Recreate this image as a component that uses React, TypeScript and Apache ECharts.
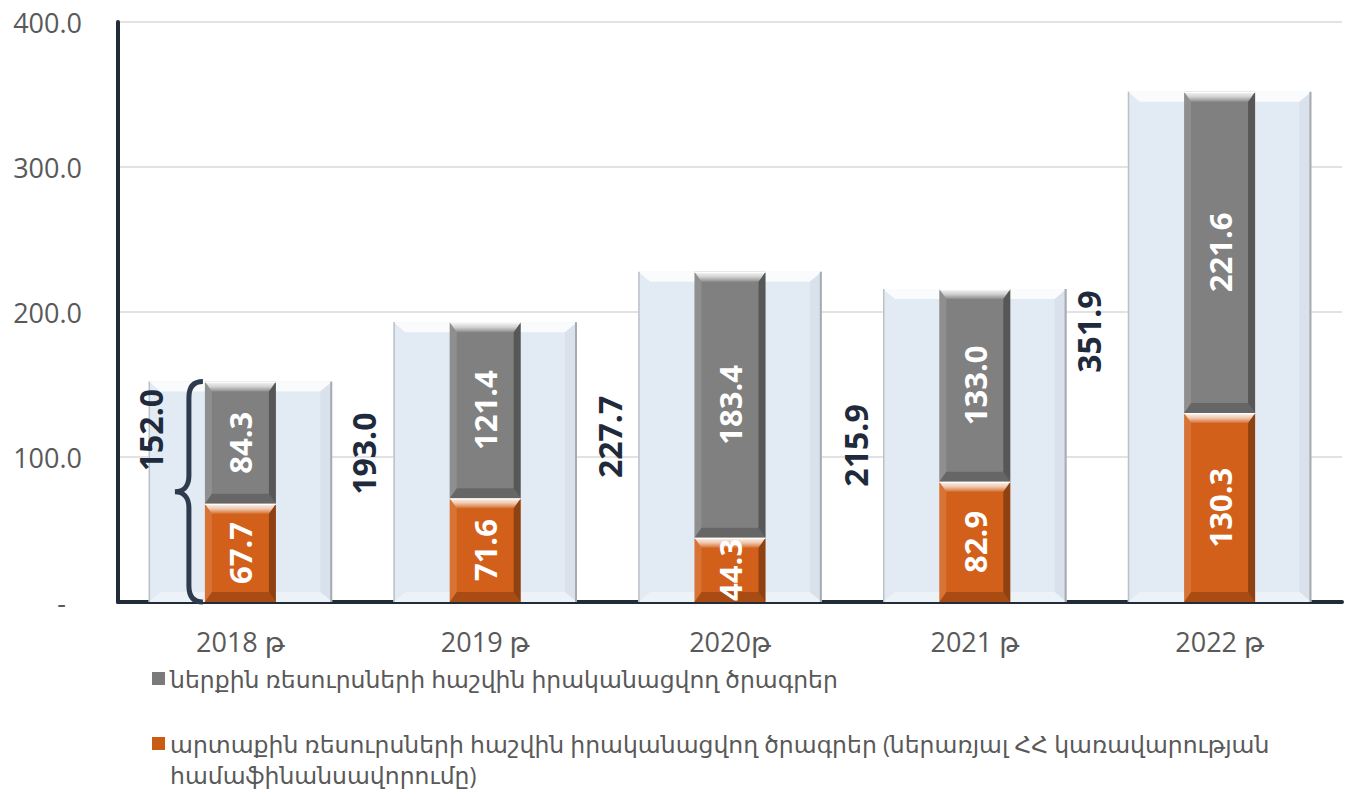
import React, { useEffect, useRef } from 'react';
import * as echarts from 'echarts';

const categories = ['2018 թ', '2019 թ', '2020թ', '2021 թ', '2022 թ'];
const externalValues = [67.7, 71.6, 44.3, 82.9, 130.3];
const internalValues = [84.3, 121.4, 183.4, 133.0, 221.6];
const totalValues = [152.0, 193.0, 227.7, 215.9, 351.9];
const internalName = 'ներքին ռեսուրսների հաշվին իրականացվող ծրագրեր';
const externalName = 'արտաքին ռեսուրսների հաշվին իրականացվող ծրագրեր (ներառյալ ՀՀ կառավարության համաֆինանսավորումը)';
const externalBreakWord = 'համաֆինանսավորումը)';

// layout only: total label anchor relative to the background bar's top-left corner
const totalLabelPos: any[] = [[2, '22%'], [-30, '47%'], [-29, '50%'], [-28, '50%'], [-39, '47%']];

const FONT = "'Open Sans', 'DejaVu Sans', sans-serif";
const BG_W = 0.75;
const SEG_W = 0.29;

echarts.graphic.registerShape(
  'brace',
  echarts.graphic.extendPath(
    'M28,0 C19,0 14,5 14,16 L14,94 C14,104 9,110 0,110 C9,110 14,116 14,126 L14,204 C14,215 19,220 28,220',
    {}
  )
);

function makeBevelRender(kind: number) {
  return function (params: any, api: any) {
    const cat = api.value(0);
    const lo = api.value(1);
    const hi = api.value(2);
    const bandW = api.size([1, 0])[0];
    const w = bandW * (kind === 0 ? BG_W : SEG_W);
    const p0 = api.coord([cat, lo]);
    const p1 = api.coord([cat, hi]);
    const x = p0[0] - w / 2;
    const yT = p1[1];
    const yB = p0[1];
    const h = yB - yT;
    const children: any[] = [];
    if (kind === 0) {
      const tb = 10;
      const sb = 12;
      children.push({
        type: 'polygon',
        shape: { points: [[x, yT], [x + w, yT], [x + w - sb, yT + tb], [x + sb, yT + tb]] },
        style: { fill: 'rgba(255,255,255,0.8)' },
      });
      children.push({
        type: 'polygon',
        shape: { points: [[x + w, yT], [x + w - sb, yT + tb], [x + w - sb, yB - tb], [x + w, yB]] },
        style: { fill: 'rgba(140,150,165,0.10)' },
      });
      children.push({
        type: 'polygon',
        shape: { points: [[x + sb, yB - tb], [x + w - sb, yB - tb], [x + w, yB], [x, yB]] },
        style: { fill: 'rgba(255,255,255,0.4)' },
      });
      children.push({
        type: 'rect',
        shape: { x: x, y: yT, width: 1.5, height: h },
        style: { fill: '#bcc1c7' },
      });
      children.push({
        type: 'rect',
        shape: { x: x + w - 2, y: yT, width: 2, height: h },
        style: { fill: '#a7abb0' },
      });
    } else {
      const tb = Math.min(10, h / 3);
      const sb = 7;
      children.push({
        type: 'polygon',
        shape: { points: [[x, yT], [x + sb, yT + tb], [x + sb, yB - tb], [x, yB]] },
        style: { fill: 'rgba(255,255,255,0.12)' },
      });
      children.push({
        type: 'polygon',
        shape: { points: [[x + w, yT], [x + w - sb, yT + tb], [x + w - sb, yB - tb], [x + w, yB]] },
        style: { fill: 'rgba(0,0,0,0.32)' },
      });
      children.push({
        type: 'polygon',
        shape: { points: [[x + sb, yB - tb], [x + w - sb, yB - tb], [x + w, yB], [x, yB]] },
        style: { fill: 'rgba(0,0,0,0.2)' },
      });
      children.push({
        type: 'polygon',
        shape: { points: [[x, yT], [x + w, yT], [x + w - sb, yT + tb], [x + sb, yT + tb]] },
        style: {
          fill: new echarts.graphic.LinearGradient(0, 0, 0, 1, [
            { offset: 0, color: 'rgba(255,255,255,0.95)' },
            { offset: 0.5, color: 'rgba(255,255,255,0.65)' },
            { offset: 1, color: 'rgba(255,255,255,0.1)' },
          ]),
        },
      });
      children.push({
        type: 'rect',
        shape: { x: x, y: yT, width: w, height: 1.2 },
        style: { fill: 'rgba(255,255,255,0.9)' },
      });
    }
    return { type: 'group', children };
  };
}

export default function App() {
  const ref = useRef<HTMLDivElement>(null);
  useEffect(() => {
    if (!ref.current) return;
    const chart = echarts.init(ref.current, undefined, { renderer: 'svg' });

    const bgBevelData = totalValues.map((v, i) => [i, 0, v]);
    const extBevelData = externalValues.map((v, i) => [i, 0, v]);
    const intBevelData = internalValues.map((v, i) => [i, externalValues[i], externalValues[i] + v]);

    const innerLabel = {
      show: true,
      position: 'inside',
      rotate: 90,
      fontSize: 31,
      fontWeight: 'bold',
      color: '#ffffff',
      fontFamily: FONT,
      formatter: (p: any) => Number(p.value).toFixed(1),
    };

    const bevelSeries = (name: string, kind: number, data: number[][], z: number) => ({
      type: 'custom',
      name,
      xAxisIndex: 0,
      yAxisIndex: 0,
      z,
      renderItem: makeBevelRender(kind),
      data,
      encode: { x: 0, y: [1, 2] },
      silent: true,
    });

    const legendText = { fontSize: 23.5, color: '#595959', fontFamily: FONT, lineHeight: 31 };

    chart.setOption({
      animation: false,
      backgroundColor: '#ffffff',
      grid: { left: 118, right: 9, top: 22, bottom: 197, containLabel: false },
      legend: [
        {
          orient: 'vertical',
          left: 152,
          top: 663,
          padding: 0,
          itemWidth: 13,
          itemHeight: 13,
          icon: 'rect',
          data: [{ name: internalName, itemStyle: { color: '#7a7a7a' } }],
          textStyle: legendText,
        },
        {
          orient: 'vertical',
          left: 152,
          top: 697,
          padding: 0,
          itemWidth: 13,
          itemHeight: 13,
          icon: 'rect',
          data: [{ name: externalName, itemStyle: { color: '#c95b14' } }],
          formatter: (name: string) => '\n' + name.replace(' ' + externalBreakWord, '\n' + externalBreakWord),
          textStyle: legendText,
        },
      ],
      xAxis: [
        {
          type: 'category',
          data: categories,
          axisLine: { show: true, lineStyle: { color: '#222b38', width: 4 } },
          axisTick: { show: false },
          axisLabel: { fontSize: 27, color: '#595959', fontFamily: FONT, margin: 26 },
          splitLine: { show: false },
        },
        {
          type: 'category',
          data: categories,
          show: false,
        },
      ],
      yAxis: {
        type: 'value',
        min: 0,
        max: 400,
        interval: 100,
        axisLine: { show: true, lineStyle: { color: '#222b38', width: 4 } },
        axisTick: { show: false },
        splitLine: { lineStyle: { color: '#d9d9d9', width: 1.5 } },
        axisLabel: {
          fontSize: 27,
          color: '#595959',
          fontFamily: FONT,
          margin: 36,
          formatter: (v: number) => (v === 0 ? '{d|-}' : v.toFixed(1)),
          rich: { d: { fontSize: 27, color: '#595959', fontFamily: FONT, padding: [0, 16, 0, 0] } },
        },
      },
      series: [
        {
          name: 'total',
          type: 'bar',
          xAxisIndex: 1,
          z: 1,
          barWidth: BG_W * 100 + '%',
          barGap: '-100%',
          data: totalValues,
          itemStyle: { color: '#e2eaf4' },
          silent: true,
        },
        bevelSeries('bgBevel', 0, bgBevelData, 2),
        {
          name: externalName,
          type: 'bar',
          stack: 's',
          z: 3,
          barWidth: SEG_W * 100 + '%',
          barGap: '-100%',
          data: externalValues,
          itemStyle: { color: '#d2601a' },
        },
        {
          name: internalName,
          type: 'bar',
          stack: 's',
          z: 3,
          barWidth: SEG_W * 100 + '%',
          barGap: '-100%',
          data: internalValues,
          itemStyle: { color: '#808080' },
        },
        bevelSeries('extBevel', 1, extBevelData, 4),
        bevelSeries('intBevel', 2, intBevelData, 4),
        {
          name: 'totalLabels',
          type: 'bar',
          xAxisIndex: 1,
          z: 6,
          barWidth: BG_W * 100 + '%',
          barGap: '-100%',
          data: totalValues.map((v, i) => ({ value: v, label: { position: totalLabelPos[i] } })),
          itemStyle: { color: 'rgba(0,0,0,0)' },
          silent: true,
          label: {
            show: true,
            rotate: 90,
            align: 'center',
            verticalAlign: 'middle',
            fontSize: 32,
            fontWeight: 'bold',
            color: '#1f2a3c',
            fontFamily: FONT,
            formatter: (p: any) => Number(p.value).toFixed(1),
          },
        },
        {
          name: 'externalLabels',
          type: 'bar',
          stack: 'lbl',
          z: 6,
          barWidth: SEG_W * 100 + '%',
          barGap: '-100%',
          data: externalValues,
          itemStyle: { color: 'rgba(0,0,0,0)' },
          silent: true,
          label: innerLabel,
        },
        {
          name: 'internalLabels',
          type: 'bar',
          stack: 'lbl',
          z: 6,
          barWidth: SEG_W * 100 + '%',
          barGap: '-100%',
          data: internalValues,
          itemStyle: { color: 'rgba(0,0,0,0)' },
          silent: true,
          label: innerLabel,
        },
      ],
    });

    const pTop = chart.convertToPixel({ xAxisIndex: 0, yAxisIndex: 0 }, [0, totalValues[0]]) as number[];
    const pBot = chart.convertToPixel({ xAxisIndex: 0, yAxisIndex: 0 }, [0, 0]) as number[];
    const pNext = chart.convertToPixel({ xAxisIndex: 0, yAxisIndex: 0 }, [1, 0]) as number[];
    const bandW = pNext[0] - pBot[0];
    const segLeft = pBot[0] - (bandW * SEG_W) / 2;
    const braceH = pBot[1] - pTop[1];
    chart.setOption({
      graphic: [
        {
          type: 'brace',
          x: segLeft - 30,
          y: pTop[1],
          scaleY: braceH / 220,
          z: 20,
          silent: true,
          style: { stroke: '#2e3a4e', lineWidth: 5, fill: 'none' },
        },
      ],
    });

    return () => chart.dispose();
  }, []);
  return <div ref={ref} style={{ position: 'fixed', left: 0, top: 0, width: 1351, height: 799 }} />;
}
